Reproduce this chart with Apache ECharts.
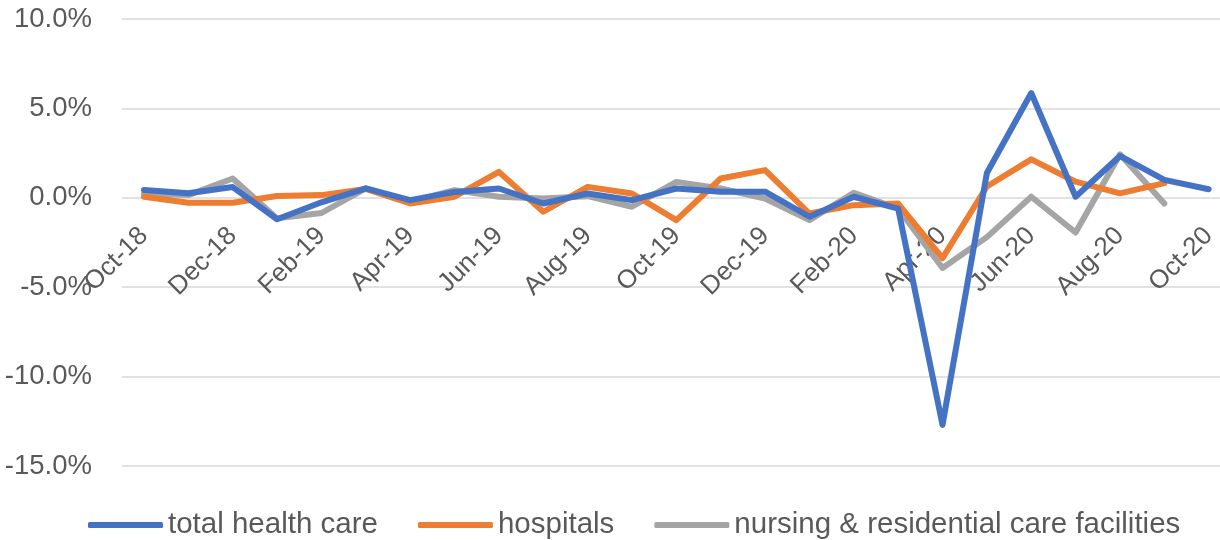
<!DOCTYPE html>
<html>
<head>
<meta charset="utf-8">
<script src="https://cdn.jsdelivr.net/npm/echarts@6/dist/echarts.min.js"></script>
<style>
  html, body { margin: 0; padding: 0; background: #fff; }
  #chart_box { width: 1220px; height: 540px; }
</style>
</head>
<body>
<div id="chart_box"></div>
<script>
// months, Oct-18 .. Oct-20
const months = ['Oct-18','Nov-18','Dec-18','Jan-19','Feb-19','Mar-19','Apr-19','May-19','Jun-19','Jul-19','Aug-19','Sep-19',
  'Oct-19','Nov-19','Dec-19','Jan-20','Feb-20','Mar-20','Apr-20','May-20','Jun-20','Jul-20','Aug-20','Sep-20','Oct-20'];

// monthly change, %
const totalHealthCare = [0.43, 0.25, 0.6, -1.2, -0.25, 0.53, -0.13, 0.33, 0.52, -0.32, 0.24, -0.13,
  0.52, 0.34, 0.34, -1.06, 0.06, -0.6, -12.7, 1.39, 5.86, 0.06, 2.34, 1.0, 0.48];
const hospitals = [0.06, -0.28, -0.28, 0.1, 0.15, 0.5, -0.32, 0.06, 1.45, -0.78, 0.61, 0.24,
  -1.25, 1.08, 1.55, -0.88, -0.41, -0.32, -3.37, 0.63, 2.15, 0.9, 0.25, 0.82, null];
const nursing = [0.24, 0.15, 1.08, -1.15, -0.85, 0.53, -0.22, 0.43, 0.06, -0.04, 0.09, -0.5,
  0.89, 0.52, -0.04, -1.25, 0.28, -0.6, -3.93, -2.2, 0.06, -1.94, 2.43, -0.32, null];

const seriesNames = ['total health care', 'hospitals', 'nursing & residential care facilities'];
const seriesColor = ['#4472C4', '#ED7D31', '#A5A5A5'];
const yMin = -15, yMax = 10, yStep = 5;

// plot area
const gridTop = 19, gridBottom = 74, chartH = 540;
const plotH = chartH - gridTop - gridBottom;
// x labels hang from the 0% line, like the original
const zeroOffset = -plotH * (0 - yMin) / (yMax - yMin);

const myEcharts = echarts.init(document.getElementById('chart_box'));

let seriesList = [totalHealthCare, hospitals, nursing].map(function (d, i) {
  return {
    name: seriesNames[i],
    type: 'line',
    xAxisIndex: 1,
    yAxisIndex: 1,
    data: d,
    symbol: 'none',
    lineStyle: { width: 6, color: seriesColor[i], cap: 'round', join: 'round' },
    itemStyle: { color: seriesColor[i] },
    z: 3 - i
  };
});

myEcharts.setOption({
  animation: false,
  textStyle: { fontFamily: 'Liberation Sans' },
  legend: {
    left: 83,
    top: 505,
    itemWidth: 75,
    itemHeight: 6,
    itemGap: 40,
    icon: 'roundRect',
    textStyle: { color: '#595959', fontSize: 29.5, fontFamily: 'Liberation Sans' },
    data: seriesNames
  },
  // grid 0: gridlines + y labels across the full width; grid 1: the lines
  grid: [
    { left: 122, top: gridTop, right: 0, bottom: gridBottom, containLabel: false },
    { left: 144, top: gridTop, right: 10, bottom: gridBottom, containLabel: false }
  ],
  xAxis: [
    { gridIndex: 0, type: 'value', min: 0, max: 1, show: false },
    {
      gridIndex: 1,
      type: 'category',
      data: months,
      boundaryGap: false,
      offset: zeroOffset,
      axisLine: { show: false, onZero: false },
      axisTick: { show: false },
      axisLabel: { interval: 1, rotate: 45, margin: 34, color: '#595959', fontSize: 26 },
      splitLine: { show: false }
    }
  ],
  yAxis: [
    {
      gridIndex: 0,
      type: 'value',
      min: yMin,
      max: yMax,
      interval: yStep,
      axisLine: { show: false },
      axisTick: { show: false },
      axisLabel: { margin: 30, color: '#595959', fontSize: 27.5, formatter: function (v) { return v.toFixed(1) + '%'; } },
      splitLine: { lineStyle: { color: '#D9D9D9', width: 1.5 } }
    },
    {
      gridIndex: 1,
      type: 'value',
      min: yMin,
      max: yMax,
      interval: yStep,
      show: false,
      splitLine: { show: false }
    }
  ],
  series: seriesList
});
</script>
</body>
</html>
